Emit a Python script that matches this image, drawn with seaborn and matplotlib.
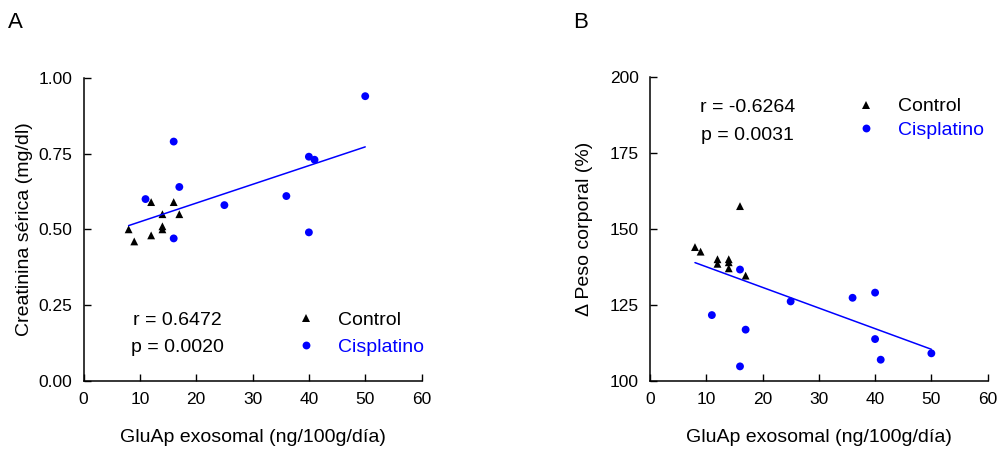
import matplotlib
matplotlib.use('Agg')
import matplotlib.pyplot as plt
import pandas as pd
import seaborn as sns

sns.set_style('ticks')
plt.rcParams['font.family'] = ['Liberation Sans', 'DejaVu Sans']
plt.rcParams['text.color'] = 'black'
plt.rcParams['axes.labelcolor'] = 'black'
plt.rcParams['xtick.color'] = 'black'
plt.rcParams['ytick.color'] = 'black'

# GluAp exosomal (ng/100g/día)
x_control = [8, 9, 12, 12, 14, 14, 14, 16, 17]
x_cisplatino = [11, 16, 16, 17, 25, 36, 40, 40, 41, 50]

# Panel A: creatinina sérica (mg/dl)
crea_control = [0.50, 0.46, 0.59, 0.48, 0.55, 0.51, 0.50, 0.59, 0.55]
crea_cisplatino = [0.60, 0.79, 0.47, 0.64, 0.58, 0.61, 0.74, 0.49, 0.73, 0.94]

# Panel B: delta peso corporal (%)
peso_control = [144.0, 142.5, 140.0, 138.5, 140.0, 139.0, 137.0, 157.5, 134.6]
peso_cisplatino = [121.6, 136.6, 104.7, 116.8, 126.1, 127.3, 129.0, 113.7, 106.9, 109.0]

grupos = ['Control', 'Cisplatino']
colores = {'Control': 'black', 'Cisplatino': 'blue'}
marcadores = {'Control': '^', 'Cisplatino': 'o'}

x_ticks = [0, 10, 20, 30, 40, 50, 60]
yticks_a = [0.00, 0.25, 0.50, 0.75, 1.00]
yticks_b = [100, 125, 150, 175, 200]

stats_a = ['r = 0.6472', 'p = 0.0020']
stats_b = ['r = -0.6264', 'p = 0.0031']


def armar_df(y_ctrl, y_cis):
    return pd.DataFrame({
        'x': x_control + x_cisplatino,
        'y': y_ctrl + y_cis,
        'grupo': ['Control'] * len(x_control) + ['Cisplatino'] * len(x_cisplatino),
    })


def panel(ax, df, yticks, ylim, ylabel, fmt, stats, stats_pos, leg_pos, leg_spacing, ylabelpad):
    sns.scatterplot(data=df, x='x', y='y', hue='grupo', style='grupo', hue_order=grupos,
                    palette=colores, markers=marcadores, s=32, linewidth=0, ax=ax)
    sns.regplot(data=df, x='x', y='y', scatter=False, ci=None, color='blue',
                line_kws={'lw': 1.1}, ax=ax)
    ax.set_xlim(0, 60)
    ax.set_ylim(*ylim)
    ax.set_xticks(x_ticks)
    ax.set_yticks(yticks)
    ax.set_yticklabels([fmt.format(v) for v in yticks])
    ax.tick_params(direction='in', length=5, width=1, labelsize=12.5, pad=8, color='black')
    ax.set_xlabel('GluAp exosomal (ng/100g/día)', fontsize=14, labelpad=16)
    ax.set_ylabel(ylabel, fontsize=14, labelpad=ylabelpad)
    sns.despine(ax=ax)
    for s in ['left', 'bottom']:
        ax.spines[s].set_color('black')
        ax.spines[s].set_linewidth(1.1)

    # r y p
    ax.text(stats_pos[0], stats_pos[1], stats[0], transform=ax.transAxes,
            ha='center', va='center', fontsize=14)
    ax.text(stats_pos[0], stats_pos[2], stats[1], transform=ax.transAxes,
            ha='center', va='center', fontsize=14)

    leg = ax.legend(loc='center left', bbox_to_anchor=leg_pos, frameon=False, fontsize=14,
                    handlelength=1.0, handletextpad=1.15, borderpad=0, borderaxespad=0,
                    labelspacing=leg_spacing, title=None)
    for t, g in zip(leg.get_texts(), grupos):
        t.set_color(colores[g])


fig = plt.figure(figsize=(10.03, 4.51), dpi=100)
ax_a = fig.add_axes([0.0833, 0.156, 0.337, 0.671])
ax_b = fig.add_axes([0.648, 0.156, 0.3367, 0.673])

panel(ax_a, armar_df(crea_control, crea_cisplatino), yticks_a, (0, 1),
      'Creatinina sérica (mg/dl)', '{:.2f}', stats_a, (0.277, 0.200, 0.110),
      (0.629, 0.156), 0.48, 4)
panel(ax_b, armar_df(peso_control, peso_cisplatino), yticks_b, (100, 200),
      'Δ Peso corporal (%)', '{:.0f}', stats_b, (0.288, 0.900, 0.809),
      (0.610, 0.864), 0.30, 12)

fig.text(8 / 1003, 1 - 12 / 451, 'A', fontsize=16, va='top', ha='left')
fig.text(573 / 1003, 1 - 12 / 451, 'B', fontsize=16, va='top', ha='left')

fig.savefig('out.png', dpi=100)
